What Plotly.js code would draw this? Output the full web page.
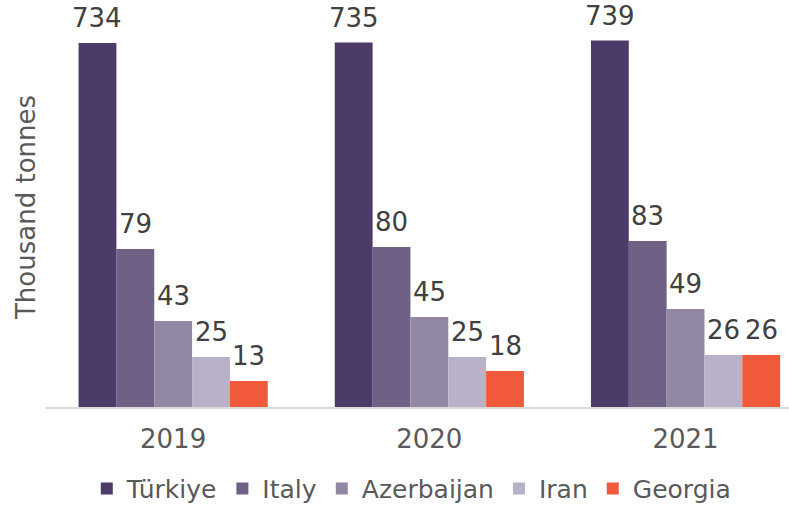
<!DOCTYPE html>
<html>
<head>
<meta charset="utf-8">
<script src="https://cdn.plot.ly/plotly-3.0.1.min.js"></script>
<style>html,body{margin:0;padding:0;background:#fff}#chart{width:789px;height:505px}</style>
</head>
<body>
<div id="chart"></div>
<script>
const years = ["2019", "2020", "2021"];
const seriesNames = ["Türkiye", "Italy", "Azerbaijan", "Iran", "Georgia"];
const turkiye = [734, 735, 739];
const italy = [79, 80, 83];
const azerbaijan = [43, 45, 49];
const iran = [25, 25, 26];
const georgia = [13, 18, 26];
const colors = ["#4c3a69", "#6f6086", "#9288a4", "#b8b1c8", "#f05a3a"];

const seriesValues = [turkiye, italy, azerbaijan, iran, georgia];
const barW = 0.1477;
const startOff = -0.369;
const yMax = 200;
const y2Max = yMax * 4.033;

const traces = [];
const annotations = [];
seriesValues.forEach((vals, i) => {
  const onY2 = i === 0;
  traces.push({
    type: "bar",
    name: seriesNames[i],
    x: years,
    y: vals,
    yaxis: onY2 ? "y2" : "y",
    width: barW,
    offset: startOff + i * barW,
    marker: {color: colors[i], line: {width: 0}},
    hoverinfo: "x+y+name"
  });
  vals.forEach((v, j) => {
    annotations.push({
      x: j + startOff + i * barW + barW / 2,
      y: v,
      xref: "x",
      yref: onY2 ? "y2" : "y",
      text: String(v),
      showarrow: false,
      xanchor: "center",
      yanchor: "bottom",
      yshift: 8,
      font: {family: "DejaVu Sans", size: 26, color: "#404040"}
    });
  });
});

const layout = {
  width: 789,
  height: 505,
  margin: {l: 45, r: 0, t: 7, b: 98},
  paper_bgcolor: "#ffffff",
  plot_bgcolor: "#ffffff",
  font: {family: "DejaVu Sans", size: 26, color: "#595959"},
  barmode: "group",
  showlegend: true,
  legend: {
    orientation: "h",
    x: 0.493, xanchor: "center",
    yref: "container",
    y: 0.032, yanchor: "middle",
    font: {family: "DejaVu Sans", size: 25, color: "#595959"},
    itemwidth: 30,
    traceorder: "normal"
  },
  xaxis: {
    type: "category",
    range: [-0.5, 2.404],
    showline: true,
    linecolor: "#d9d9d9",
    linewidth: 2,
    ticks: "outside",
    ticklen: 8,
    tickcolor: "rgba(0,0,0,0)",
    showgrid: false,
    zeroline: false,
    tickfont: {family: "DejaVu Sans", size: 26, color: "#595959"}
  },
  yaxis: {
    range: [0, yMax],
    showgrid: false,
    zeroline: false,
    showticklabels: false,
    ticks: "",
    showline: false,
    title: {text: "Thousand tonnes", font: {family: "DejaVu Sans", size: 26, color: "#595959"}, standoff: 0}
  },
  yaxis2: {
    range: [0, y2Max],
    overlaying: "y",
    side: "left",
    showgrid: false,
    zeroline: false,
    showticklabels: false,
    ticks: "",
    showline: false
  },
  annotations: annotations
};

Plotly.newPlot("chart", traces, layout, {displayModeBar: false, staticPlot: true});
</script>
</body>
</html>
